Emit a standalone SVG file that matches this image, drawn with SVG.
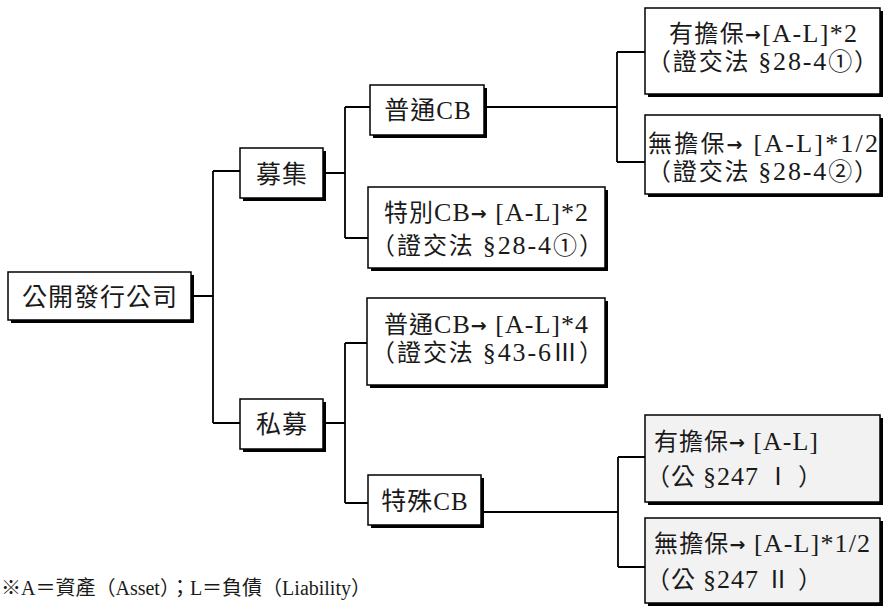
<svg xmlns="http://www.w3.org/2000/svg" width="884" height="606" viewBox="0 0 884 606">
<style>
.sh{fill:#000}
.bx{fill:#fff;stroke:#000;stroke-width:1.5}
.gr{fill:#f2f2f2;stroke:#000;stroke-width:1.5}
text{font-family:"Liberation Serif","Noto Sans CJK TC",serif;fill:#1a1a1a}
.t1{font-size:25px;text-anchor:middle;letter-spacing:1px}
.t2{font-size:24px}
.lt{font-size:26px}
.ar{font-family:"DejaVu Sans",sans-serif;font-weight:bold;font-size:19px;baseline-shift:1px}
.ft{font-size:20px}
#connectors path{fill:none;stroke:#000;stroke-width:1.8}
</style>
<rect width="884" height="606" fill="#fff"/>
<g id="connectors">
<path d="M191,296H213M213,171V423M213,171H240M213,423H240"/>
<path d="M323,173H345M345,107V238M345,107H370M345,238H368"/>
<path d="M323,423H345M345,343V503M345,343H367M345,503H368"/>
<path d="M484,107H617M617,52V162M617,52H645M617,162H645"/>
<path d="M481,512H618M618,457V567M618,457H645M618,567H645"/>
</g>
<g id="root">
<rect class="sh" x="11" y="275" width="183" height="48"/>
<rect class="bx" x="8" y="272" width="183" height="48"/>
<text class="t1" x="100" y="306">公開發行公司</text>
</g>
<g id="boshu">
<rect class="sh" x="243" y="151" width="83" height="50"/>
<rect class="bx" x="240" y="148" width="83" height="50"/>
<text class="t1" x="282" y="183">募集</text>
</g>
<g id="sishu">
<rect class="sh" x="243" y="402" width="83" height="50"/>
<rect class="bx" x="240" y="399" width="83" height="50"/>
<text class="t1" x="282" y="433">私募</text>
</g>
<g id="putong-cb">
<rect class="sh" x="373" y="88" width="114" height="50"/>
<rect class="bx" x="370" y="85" width="114" height="50"/>
<text class="t1" x="428" y="119">普通CB</text>
</g>
<g id="tebie-cb">
<rect class="sh" x="371" y="190" width="237" height="81"/>
<rect class="bx" x="368" y="187" width="237" height="81"/>
<text class="t2" x="384" y="221" textLength="204" lengthAdjust="spacing">特別<tspan class="lt">CB</tspan><tspan class="ar">→</tspan><tspan class="lt"> [A-L]*2</tspan></text>
<text class="t2" x="371" y="254" textLength="232" lengthAdjust="spacing">（證交法 <tspan class="lt">§28-4</tspan>①）</text>
</g>
<g id="putong-cb-private">
<rect class="sh" x="370" y="301" width="238" height="87"/>
<rect class="bx" x="367" y="298" width="238" height="87"/>
<text class="t2" x="384" y="333" textLength="204" lengthAdjust="spacing">普通<tspan class="lt">CB</tspan><tspan class="ar">→</tspan><tspan class="lt"> [A-L]*4</tspan></text>
<text class="t2" x="371" y="361" textLength="232" lengthAdjust="spacing">（證交法 <tspan class="lt">§43-6</tspan>Ⅲ）</text>
</g>
<g id="teshu-cb">
<rect class="sh" x="371" y="478" width="113" height="50"/>
<rect class="bx" x="368" y="475" width="113" height="50"/>
<text class="t1" x="425" y="510">特殊CB</text>
</g>
<g id="secured-public">
<rect class="sh" x="648" y="11" width="235" height="86"/>
<rect class="bx" x="645" y="8" width="235" height="86"/>
<text class="t2" x="669" y="42" textLength="188" lengthAdjust="spacing">有擔保<tspan class="ar">→</tspan><tspan class="lt">[A-L]*2</tspan></text>
<text class="t2" x="647" y="70" textLength="231" lengthAdjust="spacing">（證交法 <tspan class="lt">§28-4</tspan>①）</text>
</g>
<g id="unsecured-public">
<rect class="sh" x="648" y="118" width="235" height="79"/>
<rect class="bx" x="645" y="115" width="235" height="79"/>
<text class="t2" x="648" y="152" textLength="230" lengthAdjust="spacing">無擔保<tspan class="ar">→</tspan><tspan class="lt"> [A-L]*1/2</tspan></text>
<text class="t2" x="647" y="180" textLength="231" lengthAdjust="spacing">（證交法 <tspan class="lt">§28-4</tspan>②）</text>
</g>
<g id="secured-private">
<rect class="sh" x="648" y="418" width="235" height="87"/>
<rect class="gr" x="645" y="415" width="235" height="87"/>
<text class="t2" x="654" y="450" textLength="164" lengthAdjust="spacing">有擔保<tspan class="ar">→</tspan><tspan class="lt"> [A-L]</tspan></text>
<text class="t2" x="646" y="485" textLength="176" lengthAdjust="spacing">（公 <tspan class="lt">§247</tspan> Ⅰ ）</text>
</g>
<g id="unsecured-private">
<rect class="sh" x="648" y="521" width="235" height="85"/>
<rect class="gr" x="645" y="518" width="235" height="85"/>
<text class="t2" x="654" y="552" textLength="216" lengthAdjust="spacing">無擔保<tspan class="ar">→</tspan><tspan class="lt"> [A-L]*1/2</tspan></text>
<text class="t2" x="646" y="588" textLength="176" lengthAdjust="spacing">（公 <tspan class="lt">§247</tspan> Ⅱ ）</text>
</g>
<text class="ft" x="1" y="595">※A＝資產（Asset）；L＝負債（Liability）</text>
</svg>
